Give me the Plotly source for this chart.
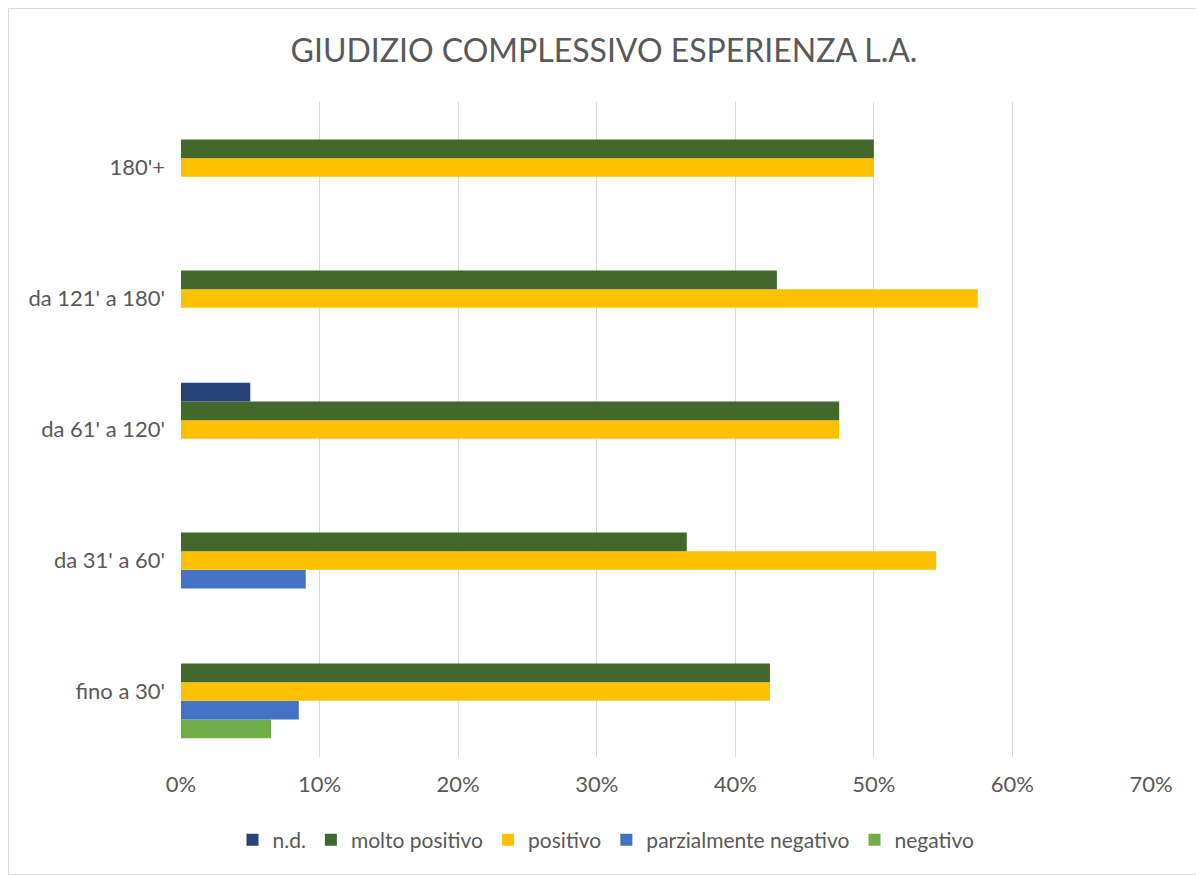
import plotly.graph_objects as go

categories = ["fino a 30'", "da 31' a 60'", "da 61' a 120'", "da 121' a 180'", "180'+"]
series_names = ["n.d.", "molto positivo", "positivo", "parzialmente negativo", "negativo"]
nd = [0, 0, 0.05, 0, 0]
molto_positivo = [0.425, 0.365, 0.475, 0.43, 0.50]
positivo = [0.425, 0.545, 0.475, 0.575, 0.50]
parz_negativo = [0.085, 0.09, 0, 0, 0]
negativo = [0.065, 0, 0, 0, 0]
x_ticks = [0, 0.1, 0.2, 0.3, 0.4, 0.5, 0.6, 0.7]
x_tick_labels = ["0%", "10%", "20%", "30%", "40%", "50%", "60%", "70%"]

colors = ["#264478", "#43682B", "#FFC000", "#4472C4", "#70AD47"]
values = [nd, molto_positivo, positivo, parz_negativo, negativo]

OFF = 8  # page offset of the plot div
W, H = 1204 - OFF, 875 - OFF
L, R, T = 181 - OFF, 53, 102 - OFF
pw, ph = 970, 655
B = H - T - ph
FONT = "Lato, Open Sans, sans-serif"
GRAY = "#595959"

fig = go.Figure()
# add in reverse so the first series sits on top of each group
for name, vals, col in reversed(list(zip(series_names, values, colors))):
    fig.add_trace(go.Bar(
        y=categories, x=vals, name=name, orientation="h",
        marker=dict(color=col, line=dict(width=0)),
    ))

fig.update_layout(
    width=W, height=H,
    margin=dict(l=L, r=R, t=T, b=B, autoexpand=False),
    paper_bgcolor="white", plot_bgcolor="white",
    barmode="group", bargap=0.285, bargroupgap=0,
    font=dict(family=FONT, color=GRAY, size=22),
    title=dict(text="GIUDIZIO COMPLESSIVO ESPERIENZA L.A.", x=(604 - OFF) / W, xref="container",
               y=1 - (51 - OFF) / H, yref="container", xanchor="center", yanchor="middle",
               font=dict(family=FONT, size=32, color=GRAY)),
    legend=dict(orientation="h", traceorder="reversed", x=(606 - OFF - L) / pw, xanchor="center",
                y=-(840 - OFF - (T + ph)) / ph, yanchor="middle",
                font=dict(family=FONT, size=21, color=GRAY),
                itemwidth=30, itemsizing="constant"),
    showlegend=True,
)
fig.update_xaxes(range=[0, 0.7], tickvals=x_ticks, ticktext=x_tick_labels,
                 showgrid=True, gridcolor="#D9D9D9", gridwidth=1.3,
                 zeroline=False, showline=False, ticks="", ticklabelstandoff=12,
                 tickfont=dict(size=22),
                 fixedrange=True)
fig.update_yaxes(categoryorder="array", categoryarray=categories,
                 showgrid=False, zeroline=False, showline=False, ticks="",
                 ticklabelstandoff=15, tickfont=dict(size=22), fixedrange=True)

fig.add_shape(type="rect", xref="paper", yref="paper",
              x0=-(L - 0.5) / pw, x1=1 + (W - 3 - L - pw) / pw,
              y0=-(B - 0.5) / ph, y1=1 + (T - 0.5) / ph,
              line=dict(color="#D9D9D9", width=1), fillcolor="rgba(0,0,0,0)", layer="below")

fig.write_html("out.html")
